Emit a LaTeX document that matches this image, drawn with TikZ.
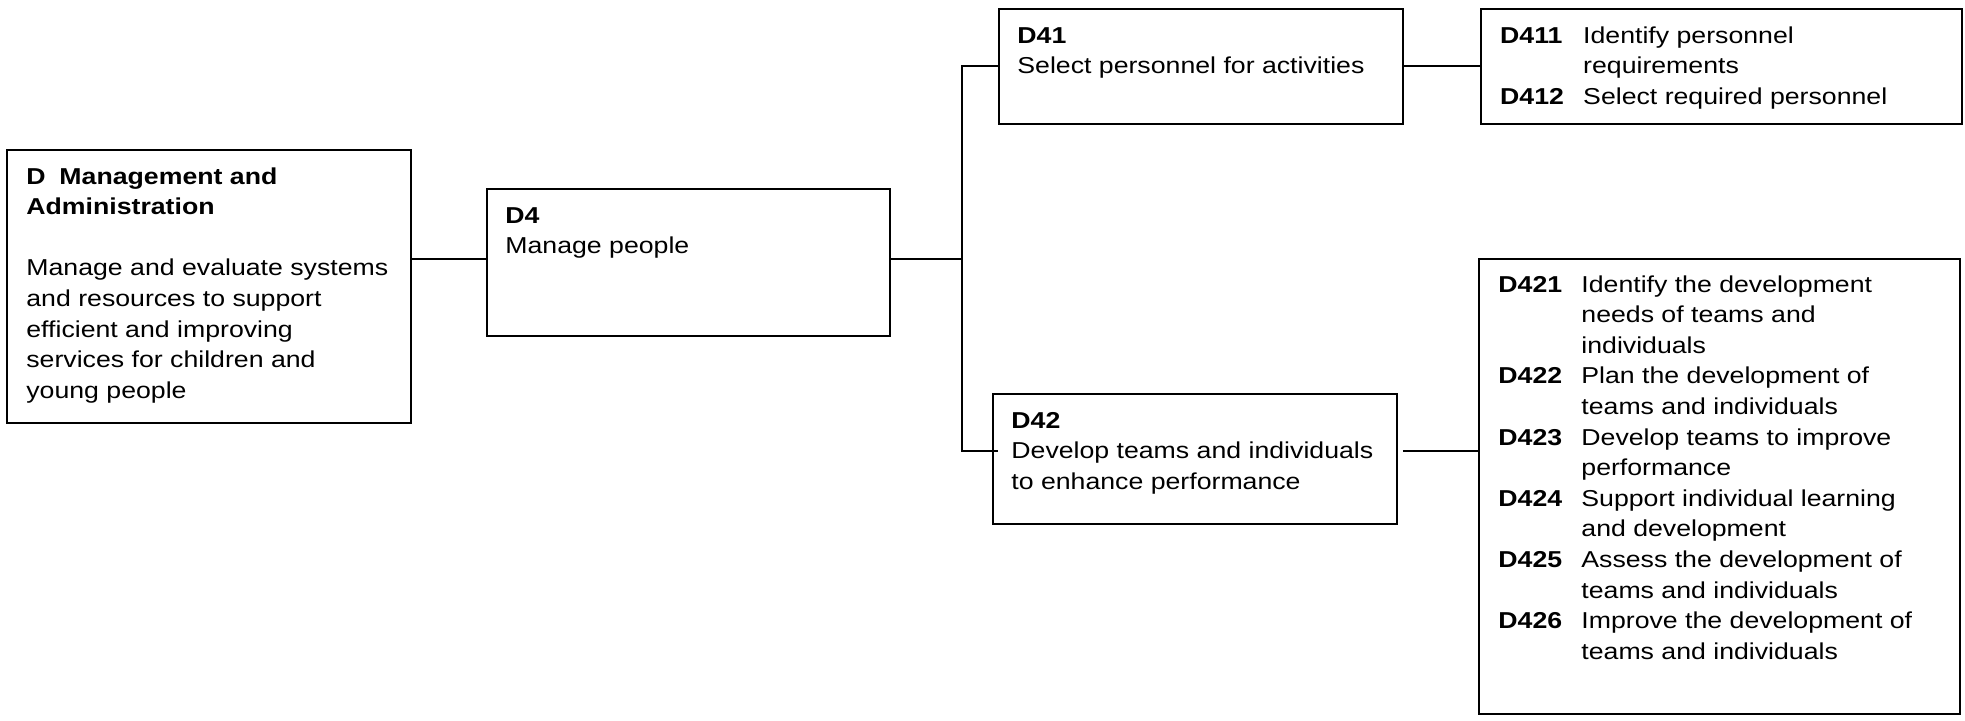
\documentclass[tikz,border=0pt]{standalone}
\usepackage{fontspec}
\setmainfont{Liberation Sans}[FakeStretch=1.16]
\usepackage{tikz}
\usetikzlibrary{positioning}
\tikzset{unit/.style={draw, line width=0.9pt, anchor=north west, inner sep=0pt}}
\tikzset{unittext/.style={anchor=base west, inner sep=0pt, font=\fontsize{11.5}{15.3}\selectfont}}
\tikzset{link/.style={line width=1pt}}
\newcommand{\unitlines}[1]{\begin{tabular}[t]{@{}l@{}}#1\end{tabular}}
\newcommand{\unitlist}[1]{\begin{tabular}[t]{@{}p{41.5pt}@{}l@{}}#1\end{tabular}}

\begin{document}
\begin{tikzpicture}[x=0.5pt, y=-0.5pt]
  \useasboundingbox (0,0) rectangle (1965,720);

  \node[unit, minimum width=202pt, minimum height=136.5pt] (d) at (6,149) {};
  \node[unit, minimum width=201.5pt, minimum height=73.5pt] (d4) at (486,188) {};
  \node[unit, minimum width=202pt, minimum height=57.5pt] (d41) at (998,8) {};
  \node[unit, minimum width=240.5pt, minimum height=57.5pt, right=38pt of d41] (d411) {};
  \node[unit, minimum width=202pt, minimum height=65pt] (d42) at (992,393) {};
  \node[unit, minimum width=240.5pt, minimum height=227.5pt] (d421) at (1478,258) {};

  \node[unittext] (d-text) at ([shift={(20,35)}]d.north west)
    {\unitlines{\textbf{D\hspace{0.6em}Management and}\\ \textbf{Administration}\\ \\
      Manage and evaluate systems\\ and resources to support\\ efficient and improving\\
      services for children and\\ young people}};
  \node[unittext] (d4-text) at ([shift={(19,35)}]d4.north west)
    {\unitlines{\textbf{D4}\\ Manage people}};
  \node[unittext] (d41-text) at ([shift={(19,35)}]d41.north west)
    {\unitlines{\textbf{D41}\\ Select personnel for activities}};
  \node[unittext] (d42-text) at ([shift={(19,35)}]d42.north west)
    {\unitlines{\textbf{D42}\\ Develop teams and individuals\\ to enhance performance}};
  \node[unittext] (d411-text) at ([shift={(20,35)}]d411.north west)
    {\unitlist{\textbf{D411} & Identify personnel\\ & requirements\\
      \textbf{D412} & Select required personnel}};
  \node[unittext] (d421-text) at ([shift={(20,34)}]d421.north west)
    {\unitlist{\textbf{D421} & Identify the development\\ & needs of teams and\\ & individuals\\
      \textbf{D422} & Plan the development of\\ & teams and individuals\\
      \textbf{D423} & Develop teams to improve\\ & performance\\
      \textbf{D424} & Support individual learning\\ & and development\\
      \textbf{D425} & Assess the development of\\ & teams and individuals\\
      \textbf{D426} & Improve the development of\\ & teams and individuals}};

  \draw[link] ([yshift=1.75pt]d.east |- d4.west) -- ([yshift=1.75pt]d4.west);
  \draw[link] ([yshift=1.75pt]d4.east) -- ++(35.5pt,0) coordinate (j);
  \draw[link] (d41.west) -| (j) |- ([xshift=3pt, yshift=4pt]d42.west);
  \draw[link] (d41.east) -- (d411.west);
  \draw[link] ([xshift=2.5pt, yshift=4pt]d42.east) coordinate (k) -- (k -| d421.west);

\end{tikzpicture}
\end{document}
